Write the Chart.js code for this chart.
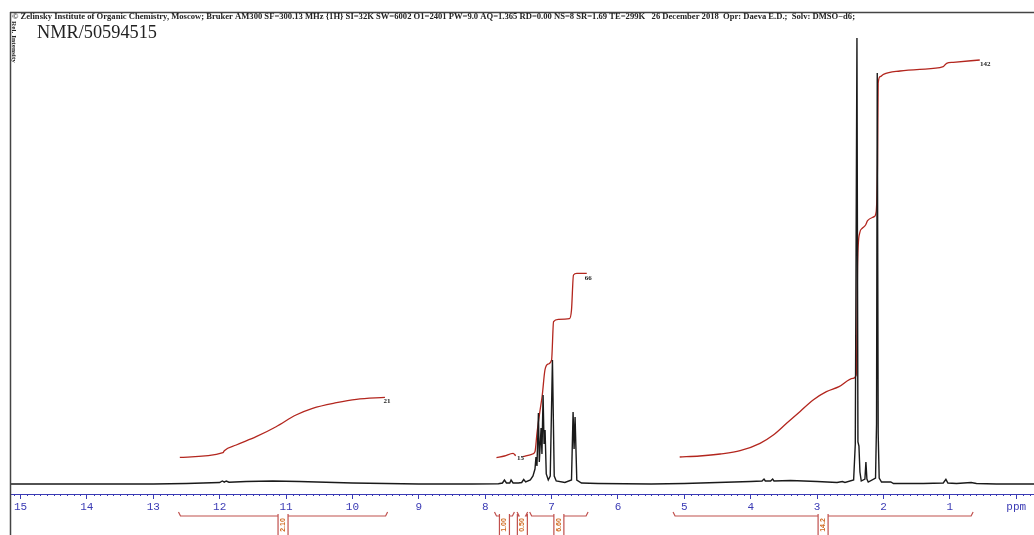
<!DOCTYPE html>
<html>
<head>
<meta charset="utf-8">
<script src="https://cdn.jsdelivr.net/npm/chart.js@4"></script>
<style>
  html, body { margin: 0; padding: 0; background: #fff; overflow: hidden; }
  canvas { display: block; }
</style>
</head>
<body>
<canvas id="nmr" width="1034" height="535"></canvas>
<script>
// spectrum (ppm / intensity)
const specPpm = [15.16, 14.0, 13.0, 12.5, 12.0, 11.96, 11.93, 11.90, 11.86, 11.6, 11.2, 10.8, 10.4, 10.0, 9.5, 9.0, 8.2,
  7.8, 7.74, 7.71, 7.68, 7.63, 7.61, 7.58, 7.50, 7.45, 7.42, 7.39, 7.32, 7.28, 7.25, 7.235, 7.22, 7.198, 7.185,
  7.158, 7.145, 7.128, 7.113, 7.098, 7.08, 7.05, 7.02, 6.987, 6.96, 6.93, 6.80, 6.70, 6.676, 6.661, 6.646, 6.62,
  6.55, 6.3, 5.5, 5.0, 4.5, 4.0, 3.83, 3.80, 3.78, 3.70, 3.67, 3.65, 3.4, 3.0, 2.7, 2.62, 2.58, 2.45, 2.425, 2.40,
  2.385, 2.37, 2.355, 2.335, 2.28, 2.265, 2.25, 2.23, 2.12, 2.105, 2.094, 2.08, 2.065, 2.03, 1.89, 1.85, 1.4,
  1.1, 1.06, 1.03, 0.9, 0.68, 0.6, 0.3, -0.27];
const specInt = [0, 0, 0, 0.5, 1.5, 3, 1.8, 3, 1.8, 2.5, 3, 2.5, 1.8, 1, 0.5, 0, 0,
  0.3, 1, 4, 1, 1, 4, 1, 1, 1.5, 4.5, 2, 4, 8, 15, 27, 18, 71, 22,
  56, 30, 89, 40, 54, 10, 4, 8, 124, 8, 3, 1.5, 4, 72, 35, 67, 4,
  1, 0.5, 0, 0.5, 1.5, 2.5, 3, 5, 3, 3, 5, 3, 3.5, 2.5, 1.5, 2.5, 1.5, 4, 40, 446,
  42, 38, 12, 3, 5, 22, 5, 2, 6, 60, 411, 50, 6, 2, 2, 0.5, 0.5,
  1, 4.7, 1, 0.5, 1.5, 0.5, 0, 0];

// integral curves
const intg1Ppm = [12.60, 11.95, 11.93, 11.75, 11.45, 11.15, 10.85, 10.60, 10.24, 9.94, 9.51];
const intg1Val = [26.7, 31.3, 33.3, 39, 47.3, 57.3, 69, 75.7, 81.3, 84.7, 86.7];
const intg2aPpm = [7.83, 7.71, 7.58, 7.54];
const intg2aVal = [26.3, 28, 30.7, 28.3];
const intg2bPpm = [7.43, 7.30, 7.25, 7.22, 7.18, 7.14, 7.10, 7.05, 7.00, 6.97, 6.90, 6.73, 6.70, 6.67, 6.62, 6.47];
const intg2bVal = [27.3, 29.7, 32.3, 50.7, 70.7, 89, 114, 120, 124, 162.3, 164.7, 165.3, 174, 209, 210.7, 210.7];
const intg3Ppm = [5.07, 4.77, 4.46, 4.16, 3.86, 3.66, 3.46, 3.26, 3.06, 2.86, 2.67, 2.46, 2.41, 2.39, 2.36, 2.32,
  2.27, 2.24, 2.14, 2.11, 2.09, 2.08, 2.05, 2.00, 1.75, 1.45, 1.10, 1.05, 0.95, 0.55];
const intg3Val = [27, 28, 30, 33.3, 40.7, 49, 60.7, 72.3, 84, 92.3, 97.3, 105.7, 109, 220.7, 250.7, 255.7,
  259, 263.3, 267.3, 272.3, 320.7, 400.7, 407.3, 409.7, 413, 414.7, 417.3, 420.7, 421.7, 424];

const intgLabels = ['21', '15', '66', '142'];
const intgLabelPpm = [9.53, 7.52, 6.50, 0.545];
const intgLabelVal = [83, 26, 206, 420];

// integration ranges under the axis
const rangeFrom = [12.62, 7.86, 7.52, 7.33, 5.17];
const rangeTo = [9.47, 7.56, 7.36, 6.45, 0.65];
const rangeLabels = ['2.10', '1.00', '0.50', '6.60', '14.2'];

const headerText = '© Zelinsky Institute of Organic Chemistry, Moscow; Bruker AM300 SF=300.13 MHz {1H} SI=32K SW=6002 O1=2401 PW=9.0 AQ=1.365 RD=0.00 NS=8 SR=1.69 TE=299K   26 December 2018  Opr: Daeva E.D.;  Solv: DMSO−d6;';
const titleText = 'NMR/50594515';

const toPts = (xs, ys) => xs.map((x, i) => ({ x: x, y: ys[i] }));

const red = '#b3261e';
const blue = '#3a3ab4';

function lineSet(data, color, width, smooth) {
  const ds = { data: data, borderColor: color, borderWidth: width, showLine: true, pointRadius: 0, fill: false, tension: 0 };
  if (smooth) ds.cubicInterpolationMode = 'monotone';
  return ds;
}

const decor = {
  id: 'decor',
  beforeDraw(chart) {
    const ctx = chart.ctx;
    ctx.save();
    ctx.fillStyle = '#fff';
    ctx.fillRect(0, 0, chart.width, chart.height);
    ctx.restore();
  },
  afterDraw(chart) {
    const ctx = chart.ctx;
    const xs = chart.scales.x;
    const ys = chart.scales.y;
    const axisY = chart.chartArea.bottom;
    ctx.save();

    // frame
    ctx.strokeStyle = '#444';
    ctx.lineWidth = 1.5;
    ctx.beginPath();
    ctx.moveTo(10, 12.5); ctx.lineTo(chart.width, 12.5);
    ctx.moveTo(10.5, 12); ctx.lineTo(10.5, chart.height);
    ctx.stroke();

    // header line
    ctx.fillStyle = '#222';
    ctx.font = 'bold 8px "Liberation Serif"';
    ctx.textBaseline = 'middle';
    ctx.textAlign = 'left';
    const w = ctx.measureText(headerText).width;
    ctx.save();
    ctx.translate(12, 16.5);
    ctx.scale(843 / w, 1);
    ctx.fillText(headerText, 0, 0);
    ctx.restore();

    // title
    ctx.font = '18px "Liberation Serif"';
    ctx.textBaseline = 'alphabetic';
    const tw = ctx.measureText(titleText).width;
    ctx.save();
    ctx.translate(37, 38);
    ctx.scale(120 / tw, 1);
    ctx.fillText(titleText, 0, 0);
    ctx.restore();

    // vertical label
    ctx.save();
    ctx.translate(13.5, 21);
    ctx.rotate(Math.PI / 2);
    ctx.font = 'bold 7px "Liberation Serif"';
    ctx.textBaseline = 'middle';
    const vw = ctx.measureText('Rel. Intensity').width;
    ctx.scale(42 / vw, 1);
    ctx.fillText('Rel. Intensity', 0, 0);
    ctx.restore();

    // minor ticks every 0.1 ppm
    ctx.strokeStyle = blue;
    ctx.lineWidth = 1;
    ctx.beginPath();
    for (let k = -2; k <= 151; k++) {
      if (k % 10 === 0) continue;
      const px = Math.round(xs.getPixelForValue(k / 10)) + 0.5;
      ctx.moveTo(px, axisY); ctx.lineTo(px, axisY + 2);
    }
    ctx.stroke();

    // integral values
    ctx.fillStyle = '#222';
    ctx.font = 'bold 7px "Liberation Serif"';
    ctx.textBaseline = 'middle';
    intgLabels.forEach((t, i) => {
      ctx.fillText(t, xs.getPixelForValue(intgLabelPpm[i]), ys.getPixelForValue(intgLabelVal[i]));
    });

    // integration brackets
    ctx.strokeStyle = '#c0504d';
    ctx.lineWidth = 1.2;
    rangeFrom.forEach((a, i) => {
      const x1 = xs.getPixelForValue(a);
      const x2 = xs.getPixelForValue(rangeTo[i]);
      const xc = (x1 + x2) / 2;
      const yl = axisY + 22;
      ctx.beginPath();
      ctx.moveTo(x1, yl - 4); ctx.lineTo(x1 + 2, yl); ctx.lineTo(xc - 5, yl);
      ctx.moveTo(xc + 5, yl); ctx.lineTo(x2 - 2, yl); ctx.lineTo(x2, yl - 4);
      ctx.moveTo(xc - 5, yl - 2); ctx.lineTo(xc - 5, chart.height);
      ctx.moveTo(xc + 5, yl - 2); ctx.lineTo(xc + 5, chart.height);
      ctx.stroke();
      ctx.save();
      ctx.translate(xc, yl + 9);
      ctx.rotate(-Math.PI / 2);
      ctx.fillStyle = '#d06a20';
      ctx.font = 'bold 7px "Liberation Sans"';
      ctx.textAlign = 'center';
      ctx.fillText(rangeLabels[i], 0, 0);
      ctx.restore();
    });

    ctx.restore();
  }
};

new Chart(document.getElementById('nmr'), {
  type: 'scatter',
  data: {
    datasets: [
      lineSet(toPts(specPpm, specInt), '#1a1a1a', 1.4, false),
      lineSet(toPts(intg1Ppm, intg1Val), red, 1.3, true),
      lineSet(toPts(intg2aPpm, intg2aVal), red, 1.3, true),
      lineSet(toPts(intg2bPpm, intg2bVal), red, 1.3, true),
      lineSet(toPts(intg3Ppm, intg3Val), red, 1.3, true)
    ]
  },
  options: {
    responsive: false,
    animation: false,
    layout: { padding: { left: 10, right: 0, top: 12, bottom: 0 } },
    plugins: { legend: { display: false }, tooltip: { enabled: false } },
    scales: {
      x: {
        type: 'linear',
        reverse: true,
        min: -0.267,
        max: 15.158,
        border: { color: blue, width: 1 },
        grid: { drawOnChartArea: false, tickLength: 5, color: blue },
        ticks: {
          stepSize: 1,
          includeBounds: false,
          autoSkip: false,
          maxRotation: 0,
          padding: 1,
          color: blue,
          font: { family: '"Liberation Mono"', size: 11 },
          callback: (v) => (v === 0 ? 'ppm' : String(v))
        },
        afterFit: (scale) => { scale.height = 41; }
      },
      y: { display: false, min: -10, max: 472 }
    }
  },
  plugins: [decor]
});
</script>
</body>
</html>
